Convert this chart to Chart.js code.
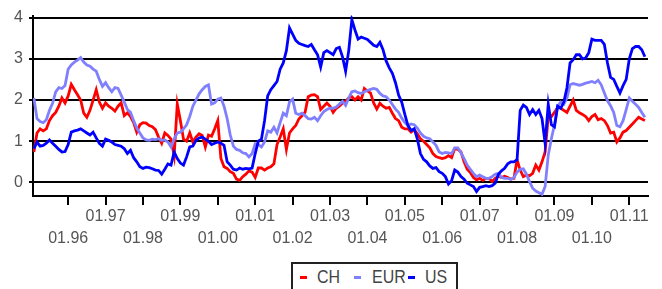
<!DOCTYPE html>
<html lang="en">
<head>
  <meta charset="UTF-8" />
  <title>CH / EUR / US</title>
  <script src="https://cdn.jsdelivr.net/npm/chart.js@4.4.1/dist/chart.umd.min.js"></script>
  <style>
    html, body {
      margin: 0;
      padding: 0;
      background: #fff;
      overflow: hidden;
    }
    .wrap {
      position: relative;
      width: 662px;
      height: 289px;
    }
    .legend {
      position: absolute;
      left: 291px;
      top: 262px;
      width: 163px;
      height: 40px;
      border: 2px solid #222;
      background: #fff;
      font-family: 'Liberation Sans', Arial, sans-serif;
      font-size: 19px;
      color: #444;
    }
    .legend span {
      position: absolute;
      top: 2px;
      line-height: 22px;
      transform: scaleX(0.84);
      transform-origin: left center;
    }
    .legend i {
      position: absolute;
      top: 12px;
      width: 7px;
      height: 3px;
    }
  </style>
</head>
<body>
  <div class="wrap">
    <canvas id="chart" width="662" height="289"></canvas>
    <div class="legend">
      <i style="left:7px;background:#ff0000"></i><span style="left:24px">CH</span>
      <i style="left:61px;background:#8080ff"></i><span style="left:79px">EUR</span>
      <i style="left:115px;background:#0000ff"></i><span style="left:132px">US</span>
    </div>
  </div>

  <script>
    // monthly values, first point is Feb 1995, last is Jun 2011
    const startYear = 1995;
    const startMonth = 2;

    const chRates = [
      0.74, 1.2, 1.3, 1.25, 1.3, 1.5, 1.62, 1.7, 1.85, 2.05, 1.93,
      2.1, 2.38, 2.25, 2.13, 2.0, 1.68, 1.58, 1.75, 2.0, 2.25, 1.95, 1.8,
      1.93, 1.85, 1.8, 1.73, 1.85, 1.93, 1.62, 1.69, 1.6, 1.45, 1.22, 1.4,
      1.45, 1.44, 1.38, 1.35, 1.28, 1.1, 0.95, 1.2, 1.14, 1.05, 0.65, 1.9,
      1.5, 1.05, 1.0, 1.2, 0.98, 1.1, 1.18, 1.14, 0.86, 1.15, 1.12, 1.3,
      1.5, 0.58, 0.38, 0.34, 0.26, 0.22, 0.08, 0.05, 0.14, 0.2, 0.28, 0.25,
      0.12, 0.35, 0.35, 0.3, 0.35, 0.38, 0.45, 0.92, 1.1, 1.3, 0.8, 1.2,
      1.3, 1.38, 1.54, 1.62, 1.7, 2.08, 2.12, 2.13, 2.08, 1.77, 1.85, 1.93,
      1.85, 1.7, 1.8, 1.85, 1.93, 1.97, 2.05, 2.08, 2.0, 2.08, 2.0, 2.28,
      2.22, 2.17, 1.93, 1.78, 1.92, 1.85, 1.8, 1.82, 1.68, 1.55, 1.5, 1.34,
      1.3, 1.3, 1.22, 1.28, 1.18, 1.06, 1.0, 0.92, 0.84, 0.7, 0.63, 0.6,
      0.58, 0.6, 0.65, 0.6, 0.82, 0.8, 0.74, 0.5, 0.32, 0.24, 0.12, 0.06,
      0.1, 0.05, 0.1, 0.1, 0.02, 0.1, 0.15, 0.12, 0.15, 0.12, 0.08, 0.1,
      0.55, 0.3, 0.14, 0.18, 0.16, 0.22, 0.42, 0.3, 0.5, 0.74, 1.6, 1.6,
      1.7, 1.82, 1.8, 1.75, 1.7, 1.85, 2.0, 1.75, 1.69, 1.65, 1.6, 1.5,
      1.6, 1.65, 1.52, 1.55, 1.5, 1.38, 1.2, 1.22, 0.98, 1.08, 1.22, 1.26,
      1.34, 1.42, 1.5, 1.58, 1.54, 1.5
    ];

    const eurRates = [
      2.05, 1.55, 1.48, 1.45, 1.52, 1.75, 1.92, 2.2, 2.3, 2.28, 2.35,
      2.75, 2.85, 2.92, 2.97, 3.03, 2.92, 2.85, 2.82, 2.75, 2.7, 2.5, 2.33,
      2.42, 2.3, 2.2, 2.3, 2.28, 2.12, 1.95, 1.77, 1.7, 1.5, 1.32, 1.2,
      1.08, 1.03, 1.02, 1.05, 1.04, 1.06, 1.02, 1.03, 0.98, 0.86, 1.05, 1.2,
      1.22, 1.3, 1.4, 1.6, 1.85, 2.0, 2.15, 2.25, 2.33, 2.37, 1.9, 1.93,
      2.02, 2.05, 1.85, 1.55, 1.15, 0.88, 0.8, 0.78, 0.72, 0.7, 0.62, 0.7,
      0.94, 0.92, 0.86, 0.98, 1.25, 1.22, 1.34, 1.2, 1.45, 1.68, 1.62, 1.95,
      2.02, 1.68, 1.65, 1.68, 1.62, 1.55, 1.54, 1.58, 1.5, 1.62, 1.72, 1.77,
      1.8, 1.8, 1.83, 1.9, 1.97, 1.87, 2.05, 2.2, 2.22, 2.18, 2.16, 2.2,
      2.23, 2.26, 2.28, 2.26, 2.16, 2.1, 2.08, 2.0, 1.89, 1.78, 1.7, 1.56,
      1.45, 1.38, 1.42, 1.4, 1.32, 1.2, 1.12, 1.08, 1.06, 0.98, 0.9, 0.74,
      0.7, 0.73, 0.72, 0.7, 0.84, 0.84, 0.72, 0.58, 0.42, 0.32, 0.22, 0.14,
      0.18, 0.14, 0.1, 0.1, 0.14, 0.2, 0.22, 0.12, 0.1, 0.1, 0.07, 0.12,
      0.25, 0.32, 0.33, 0.2, 0.02, -0.14, -0.21, -0.25, -0.29, -0.1, 0.66, 1.06,
      1.4, 1.85, 1.95, 1.9, 2.05, 2.37, 2.4, 2.38, 2.36, 2.38, 2.41, 2.43,
      2.45, 2.42, 2.48, 2.37, 2.17, 1.98, 1.86, 1.7, 1.38, 1.35, 1.5, 1.77,
      2.05, 1.97, 1.9, 1.82, 1.7, 1.58
    ];

    const usRates = [
      0.82, 0.98, 0.88, 0.9, 0.95, 1.03, 0.95, 0.88, 0.8, 0.74, 0.75,
      0.92, 1.22, 1.25, 1.27, 1.3, 1.25, 1.2, 1.15, 1.22, 1.08, 0.95, 0.88,
      1.05, 1.02, 0.98, 0.92, 0.9, 0.88, 0.82, 0.7, 0.78, 0.6, 0.5, 0.38,
      0.34, 0.37, 0.36, 0.33, 0.3, 0.29, 0.2, 0.32, 0.45, 0.42, 0.74, 0.58,
      0.47, 0.42, 0.62, 0.86, 0.88, 1.02, 1.08, 1.1, 1.05, 1.0, 0.92, 0.95,
      0.98, 0.95, 0.9, 0.5, 0.42, 0.32, 0.3, 0.35, 0.32, 0.34, 0.33, 0.35,
      0.7, 1.0, 1.05, 1.5, 2.1, 2.25, 2.35, 2.45, 2.75, 2.9, 3.2, 3.75,
      3.6, 3.45, 3.38, 3.35, 3.32, 3.3, 3.35, 3.22, 3.1, 2.8, 3.15, 3.2,
      3.15, 3.1, 3.25, 3.28, 3.05, 2.7, 3.2, 3.95, 3.7, 3.48, 3.53, 3.5,
      3.47, 3.4, 3.33, 3.3, 3.4, 3.22, 2.95, 2.78, 2.65, 2.42, 2.12, 1.95,
      1.65, 1.38, 1.26, 1.3, 1.06, 0.7, 0.56, 0.5, 0.4, 0.34, 0.36, 0.26,
      0.22, 0.14, -0.04, 0.04, 0.3, 0.25, 0.14, 0.08, -0.02, -0.06, -0.1, -0.22,
      -0.12, -0.1, -0.08, -0.1, -0.08, -0.02, 0.2, 0.28, 0.34, 0.45, 0.5, 0.5,
      0.55, 1.75, 1.88, 1.82, 1.65, 1.77, 1.65, 1.75, 1.55, 0.95, 1.9, 1.4,
      1.35, 1.85, 1.8, 1.95, 2.3, 2.9, 2.98, 3.1, 3.1, 3.0, 3.02, 3.15,
      3.48, 3.45, 3.45, 3.45, 3.35, 2.9, 2.55, 2.5, 2.33, 2.17, 2.35, 2.5,
      3.0, 3.25, 3.3, 3.3, 3.22, 3.05
    ];

    const tickYears = [1996, 1997, 1998, 1999, 2000, 2001, 2002, 2003,
                       2004, 2005, 2006, 2007, 2008, 2009, 2010, 2011];
    const yTicks = [0, 1, 2, 3, 4];

    // decimal year for each month
    const months = chRates.map((_, i) => startYear + (startMonth - 1 + i) / 12);

    function toPoints(values) {
      return values.map((v, i) => ({ x: months[i], y: v }));
    }

    const fontFamily = "'Liberation Sans', Arial, sans-serif";
    const textColor = '#555';

    const ctx = document.getElementById('chart').getContext('2d');
    new Chart(ctx, {
      type: 'line',
      data: {
        datasets: [
          { label: 'US', data: toPoints(usRates), borderColor: '#0000ff' },
          { label: 'EUR', data: toPoints(eurRates), borderColor: '#8080ff' },
          { label: 'CH', data: toPoints(chRates), borderColor: '#ff0000' }
        ]
      },
      options: {
        responsive: false,
        animation: false,
        events: [],
        layout: { padding: { left: 0, top: 13, right: 14, bottom: 0 } },
        elements: {
          line: { borderWidth: 2.8, tension: 0, fill: false },
          point: { radius: 0 }
        },
        plugins: {
          legend: { display: false },
          tooltip: { enabled: false }
        },
        scales: {
          x: {
            type: 'linear',
            min: 1995.06,
            max: 2011.5,
            afterBuildTicks: (scale) => {
              scale.ticks = tickYears.map((v) => ({ value: v }));
            },
            afterFit: (scale) => { scale.height = 93; },
            grid: {
              drawOnChartArea: false,
              drawTicks: true,
              tickLength: 9,
              color: '#000',
              lineWidth: 2
            },
            border: { color: '#000', width: 2 },
            ticks: {
              autoSkip: false,
              maxRotation: 0,
              padding: 0,
              color: textColor,
              font: { family: fontFamily, size: 16, lineHeight: 1.4 },
              callback: (v) => {
                const lab = '01.' + String(v % 100).padStart(2, '0');
                // odd years on the upper row, even years on the lower row
                return v % 2 ? [lab] : ['', lab];
              }
            }
          },
          y: {
            min: -0.33,
            max: 4.05,
            afterBuildTicks: (scale) => {
              scale.ticks = yTicks.map((v) => ({ value: v }));
            },
            afterFit: (scale) => { scale.width = 33; },
            grid: { color: '#000', lineWidth: 2, tickLength: 4 },
            border: { color: '#000', width: 2 },
            ticks: {
              padding: 6,
              color: textColor,
              font: { family: fontFamily, size: 16 }
            }
          }
        }
      }
    });
  </script>
</body>
</html>
